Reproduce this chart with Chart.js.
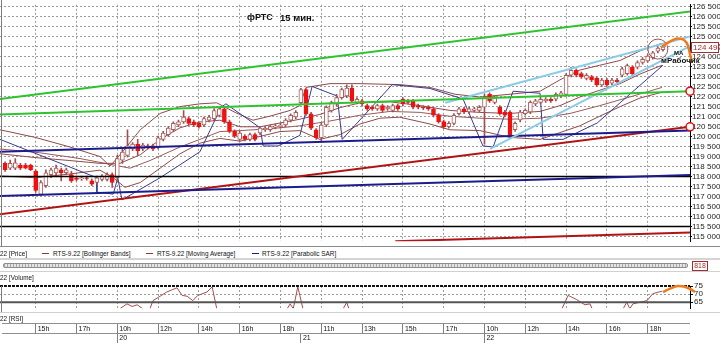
<!DOCTYPE html>
<html>
<head>
<meta charset="utf-8">
<script src="https://cdn.jsdelivr.net/npm/chart.js@4.4.1/dist/chart.umd.min.js"></script>
<style>
  html, body { margin: 0; padding: 0; background: #fff; }
  body { width: 720px; height: 344px; position: relative; overflow: hidden;
         font-family: 'Liberation Sans', Arial, sans-serif; color: #111; }
  .abs { position: absolute; }
  canvas { display: block; }
  .txt { position: absolute; font-size: 8px; line-height: 9px; white-space: nowrap;
         transform: scaleX(0.8); transform-origin: 0 0; }
  .swatch { position: absolute; height: 1px; width: 7px; }
</style>
</head>
<body>
  <canvas id="priceChart" class="abs" width="720" height="246" style="left:0;top:0"></canvas>
  <div class="abs" style="left:0;top:246px;width:720px;height:1px;background:#8a8a8a"></div>
  <div class="abs" style="left:1px;top:0;width:1px;height:246px;background:#7a7a7a"></div>

  <div class="abs" style="left:247px;top:12px;font:bold 9px 'Liberation Sans',Arial,sans-serif">фРТС</div>
  <div class="abs" style="left:280px;top:12px;font:bold 9.5px 'Liberation Sans',Arial,sans-serif">15 мин.</div>
  <div class="abs" style="left:674px;top:50px;font:bold 6px 'Liberation Sans',Arial,sans-serif">МА</div>
  <div class="abs" style="left:661px;top:56px;font:bold 8px 'Liberation Sans',Arial,sans-serif">мРабочик</div>

  <!-- legend row -->
  <div class="txt" style="left:0;top:249px">22 [Price]</div>
  <div class="swatch" style="left:42px;top:253px;background:#8a3a3a"></div>
  <div class="txt" style="left:53px;top:249px">RTS-9.22 [Bollinger Bands]</div>
  <div class="swatch" style="left:146px;top:253px;background:#8a3a3a"></div>
  <div class="txt" style="left:157px;top:249px">RTS-9.22 [Moving Average]</div>
  <div class="swatch" style="left:252px;top:253px;background:#1c1c8c"></div>
  <div class="txt" style="left:262px;top:249px">RTS-9.22 [Parabolic SAR]</div>

  <!-- scroll bar row -->
  <div class="abs" style="left:0;top:258px;width:720px;height:2px;background:#d4d4d4"></div>
  <div class="abs" style="left:3px;top:263px;width:683px;height:3px;border:1px solid #8c8c8c;border-radius:2px;
       background:repeating-linear-gradient(90deg,#a8a8a8 0 1px,#e4e4e4 1px 3px)"></div>
  <div class="abs" style="left:692px;top:261px;width:14px;height:8px;border:1px solid #a03030;background:#fff;
       font-size:7px;line-height:8px;color:#a03030;text-align:center">818</div>
  <div class="abs" style="left:0;top:271px;width:720px;height:1px;background:#d0d0d0"></div>

  <div class="txt" style="left:0;top:273px">22 [Volume]</div>
  <canvas id="rsiChart" class="abs" width="720" height="34" style="left:0;top:280px"></canvas>
  <div class="abs" style="left:1px;top:286px;width:1px;height:26px;background:#7a7a7a"></div>
  <div class="abs" style="left:0;top:312px;width:720px;height:1px;background:#d0d0d0"></div>
  <div class="txt" style="left:0;top:314px">22 [RSI]</div>

  <!-- time axis -->
  <div class="abs" style="left:2px;top:323px;width:688px;height:20px;border-top:1px solid #909090;border-bottom:1px solid #909090"></div>
  <div class="abs" style="left:2px;top:333px;width:688px;height:1px;background:#909090"></div>
  <canvas id="hourAxis" class="abs" width="720" height="10" style="left:0;top:324px"></canvas>
  <canvas id="dayAxis" class="abs" width="720" height="9" style="left:0;top:334px"></canvas>

<script>
// ---- axis ranges (bar index on x, one unit = one 15-minute bar) ----
const X_MIN = -1;
const X_MAX = 134.3;
const P_MIN = 114764;
const P_MAX = 126596;

const hourTicks = [6, 14, 22, 30, 38, 46, 54, 62, 70, 78, 86, 94, 102, 110, 118, 126];
const hourLabels = ['15h', '17h', '10h', '12h', '14h', '16h', '18h', '11h', '13h', '15h', '17h', '10h', '12h', '14h', '16h', '18h'];
const dayTicks = [22, 58, 94];
const dayLabels = ['20', '21', '22'];
const priceTicks = [115000, 115500, 116000, 116500, 117000, 117500, 118000, 118500, 119000, 119500, 120000, 120500,
  121000, 121500, 122000, 122500, 123000, 123500, 124000, 124500, 125000, 125500, 126000, 126500];
const rsiTicks = [75, 70, 65];
const lastPrice = 124490;

// ---- 15 min candles ----
const opens = [118660,118420,118420,118580,118580,118580,118260,117100,117540,118100,118180,118340,118200,118100,117940,117880,117940,117780,117700,117860,117860,118100,
  117940,118820,119060,119380,119620,119380,119540,119540,119460,119860,120100,120340,120580,120740,120900,120740,120660,120580,120820,120900,121060,121390,120740,120260,119860,120020,119860,120100,120180,120340,120340,120460,120500,120580,120820,120980,
  121700,122350,121140,120340,119940,120580,121300,121620,121950,122030,122430,121700,121790,121550,121470,121390,121550,121390,121310,121550,121870,121790,121790,121550,121470,121470,121390,121070,120750,120500,120660,121150,121390,121230,121310,121310,
  121470,122110,121710,121470,121230,121230,120350,120830,121150,121230,121630,121710,121790,121870,121870,122030,122110,123070,123310,123150,122910,122990,122910,122590,122830,122670,122830,123070,123150,123470,123470,123710,123790,123950,124270,124350];
const highs = [118740,118820,118900,118660,118660,118620,118340,117800,118340,118420,118580,118420,118420,118260,118020,118020,118020,117880,118020,118100,118180,118180,
  119060,119380,120340,119700,119860,119660,119620,119620,120020,120260,120500,120740,120820,121300,120980,120820,120740,120980,121060,121400,121460,121460,120820,120340,120260,120100,120180,120180,120500,120500,120580,120620,120660,120900,121140,121300,
  122420,122400,121220,120400,120660,121540,121780,122110,122430,122590,122590,121950,121870,121630,121550,121630,121630,121550,121630,121630,121950,121870,121870,121630,121550,121550,121470,121150,120830,120750,121150,121470,121470,121470,121470,121550,
  122110,122190,122030,121550,121310,121300,120740,121310,121390,121790,121870,121950,121950,121950,122190,122270,123150,123470,123390,123230,123150,123070,122990,122910,122910,122910,122910,123470,123630,123550,123790,123950,124110,124270,124510,124590];
const lows = [118260,118340,118340,118340,118380,118300,117200,117050,117460,117940,118020,117780,118100,117700,117780,117800,117820,117540,117620,117780,117780,117460,
  117860,118660,118980,119300,119060,119300,119380,119300,119380,119780,120020,120260,120500,120660,120580,120500,120420,120500,120740,120820,120980,120660,120180,119940,119780,119780,119780,119780,120100,120260,120260,120380,120420,120500,120740,120900,
  121620,121060,120340,119860,119780,120500,121220,121540,121870,121950,121700,121630,121550,121310,121310,121310,121230,121310,121230,121310,121550,121630,121390,121390,121350,121310,120990,120670,120400,120420,120580,121070,121150,121150,121230,121230,
  119620,121710,121630,121070,120990,119940,120260,120740,121070,121150,121550,121630,121710,121710,121790,121950,122030,122990,122990,122910,122830,122750,122510,122510,122510,122590,122670,122990,123070,123070,123390,123630,123710,123870,124190,124270];
const closes = [118340,118660,118690,118420,118420,118340,117300,117700,118180,118340,118420,118180,118340,117780,117860,117940,117900,117620,117940,118020,118100,117700,
  118900,119220,119540,119620,119300,119580,119460,119380,119940,120180,120420,120660,120740,120980,120660,120580,120500,120900,120980,121300,121390,120740,120260,120020,120180,119860,120100,119860,120420,120420,120500,120540,120580,120820,121060,121220,
  122350,121140,120420,119940,120580,121460,121700,121950,122350,122430,121790,121870,121630,121390,121390,121550,121310,121470,121550,121390,121630,121710,121470,121470,121430,121390,121070,120750,120500,120660,121070,121390,121230,121390,121390,121470,
  121950,121790,121950,121150,121070,120100,120660,121230,121310,121710,121790,121870,121870,121790,122110,122190,123070,123310,123070,122990,123070,122830,122590,122830,122590,122830,122750,123390,123550,123150,123710,123870,124030,124190,124430,124490];

// ---- indicators as [bar, price] ----
const bbUpper = [[-1,120340],[5.9,119960],[12.7,119480],[18.6,119000],[20.6,118520],[23.5,119380],[26.5,120340],[30.4,121160],[34.3,121500],[38.2,121640],[41.5,121690],[45.1,121210],[48.6,120820],[51.9,121020],[55.9,121310],[57.8,121550],[59,122460],[63.7,122650],[69.6,122650],[77.4,122600],[83.3,122460],[88.2,122120],[93.1,121980],[99,122120],[104.9,122270],[108.8,122840],[112.7,123330],[116.6,123570],[120.6,123810],[124.5,124290],[128.8,124670]];
const bbMiddle = [[-1,119140],[5.9,118950],[12.7,118800],[18.6,118660],[22.5,118660],[26.5,119090],[30.4,119860],[34.3,120440],[38.2,120730],[42.1,120820],[46.1,120490],[50,120490],[53.9,120680],[57.8,120870],[61.7,121110],[65.7,121450],[69.6,121690],[75.5,121740],[81.4,121550],[87.2,121310],[93.1,121210],[99,121160],[104.9,121260],[108.8,121550],[112.7,121980],[116.6,122320],[120.6,122650],[124.5,123130],[128.8,123570]];
const bbLower = [[-1,118030],[5.9,117940],[12.7,118130],[18.6,118320],[21.2,117940],[23.5,117460],[26.5,117700],[30.4,118420],[34.3,119140],[38.2,119670],[42.1,119910],[46.1,119770],[50,120010],[53.9,120250],[57.8,120300],[61.7,119860],[65.7,120100],[69.6,120630],[73.5,120920],[77.4,120970],[83.3,120630],[87.2,120340],[93.1,120300],[99,119960],[104.9,119860],[108.8,120200],[112.7,120540],[116.6,121020],[120.6,121500],[124.5,121930],[128.8,122220]];
const movingAvg = [[-1,119380],[6.8,119190],[14.7,118900],[20.6,118610],[24.5,118420],[28.4,118800],[34.3,119480],[38.2,119860],[42.1,120250],[46.1,120300],[51.9,120390],[57.8,120540],[63.7,120780],[69.6,121070],[75.5,121260],[81.4,121210],[87.2,121020],[93.1,120920],[99,120870],[104.9,120920],[110.8,121160],[116.6,121550],[122.5,121980],[128.8,122460]];
const sar = [[-1,119860],[18,117940],[18,117220],[21.2,117120],[22.1,117940],[22.9,116830],[30.4,117940],[38.2,119240],[42.3,121450],[43.3,121640],[50,120440],[50.6,119530],[53.5,119530],[57.8,120060],[60.2,122510],[65.1,122030],[66.1,119860],[75.9,122600],[83.3,122410],[89.8,121880],[93.7,119530],[95.7,119480],[99.6,122270],[104.9,122170],[105.5,119860],[109.4,119860],[116.1,120680],[122.5,122120],[129,123570]];

// ---- hand drawn lines ----
const greenUpper = [[-1,121880],[134.3,126260]];
const greenLower = [[-1,121110],[134.3,122270]];
const blueChanUpper = [[86.3,121690],[134.3,125010]];
const blueChanLower = [[95.1,119380],[134.3,124530]];
const navyUpper = [[-1,119240],[134.3,120300]];
const navyLower = [[-1,117030],[134.3,118080]];
const redMain = [[-1,116110],[134.3,120490]];
const redBottom = [[76.5,114760],[134.3,115200]];
const level118 = [[-1,118000],[134.3,118000]];
const level1155 = [[-1,115500],[134.3,115500]];
const lineEnds = [[134.3,122270],[134.3,120490]];
const ellipseAt = [[128,124380]];
const orangePrice = [[128.8,124480],[129.8,124670],[131.9,124910],[133.7,124670],[134.7,123710],[136.6,122120],[138.2,121160],[139.2,120720]];

// ---- lower pane ----
const rsiLine = [[22.5,61],[23.9,64],[24.9,62.4],[25.9,63.4],[27,61],[27.5,null],
  [28.4,61],[29,66],[30.4,68.7],[31.7,71.3],[33.7,73.9],[34.7,69.2],[35.7,68.7],[36.8,66],[37.8,69.2],[39.6,71.3],[40.6,74.5],[41.5,61],[48,null],
  [55.3,61],[55.9,64],[56.5,61],[57.4,74.5],[58.4,61],[62,null],
  [66.3,61],[67,65],[67.4,61],[90,null],
  [109.2,61],[110.4,69.2],[112.1,66.6],[113.7,63.4],[114.7,64],[115.1,61],[118,null],
  [121.2,61],[121.9,65],[122.5,61],[123.1,64],[124.5,65],[125.9,66],[127,70.3],[128.8,71.8]];
const orangeRsi = [[129,71.3],[130.4,73.4],[131.9,75],[133.3,74.5],[135.3,71.3],[136.8,67.6],[138.2,64]];
const rsiTop = [[-1,75],[134.3,75]];
const rsiBase = [[-1,65],[134.3,65]];

const FONT = "'Liberation Sans', Arial, sans-serif";
const MAROON = '#a05050';
const UP_EDGE = '#a86060';
const DOWN = '#f01010';

const pts = arr => arr.map(([x, y]) => ({x, y}));
const fmt = v => String(Math.round(v)).replace(/\B(?=(\d{3})+(?!\d))/g, ' ');

function lineSet(arr, color, width, order, extra) {
  return Object.assign({
    type: 'line', data: pts(arr), borderColor: color, borderWidth: width,
    pointRadius: 0, tension: 0, fill: false, order: order
  }, extra || {});
}

// ---- price pane ----
const wickData = opens.map((o, i) => ({x: i, y: [lows[i], highs[i]]}));
const bodyData = opens.map((o, i) => ({x: i, y: [Math.min(o, closes[i]), Math.max(o, closes[i])]}));
const bodyFill = opens.map((o, i) => closes[i] < o ? DOWN : '#ffffff');
const bodyEdge = opens.map((o, i) => closes[i] < o ? DOWN : UP_EDGE);

const lastPriceTag = {
  id: 'lastPriceTag',
  afterDraw(chart) {
    const {ctx, scales: {y}} = chart;
    const py = Math.round(y.getPixelForValue(lastPrice));
    ctx.save();
    ctx.fillStyle = '#fff';
    ctx.fillRect(y.left + 1, py - 5, 28, 10);
    ctx.strokeStyle = '#a03030';
    ctx.lineWidth = 1;
    ctx.strokeRect(y.left + 1.5, py - 4.5, 27, 10);
    ctx.fillStyle = '#a03030';
    ctx.font = '8px ' + FONT;
    ctx.textBaseline = 'middle';
    ctx.fillText(fmt(lastPrice), y.left + 3, py + 0.5);
    ctx.restore();
  }
};

new Chart(document.getElementById('priceChart'), {
  type: 'bar',
  data: {
    datasets: [
      {data: wickData, backgroundColor: MAROON, barThickness: 1, grouped: false, order: 5},
      {data: bodyData, backgroundColor: bodyFill, borderColor: bodyEdge, borderWidth: 1, borderSkipped: false,
       barThickness: 4, grouped: false, order: 4},
      lineSet(bbUpper, '#8e4a4a', 1, 8),
      lineSet(bbMiddle, '#8e4a4a', 1, 8),
      lineSet(bbLower, '#8e4a4a', 1, 8),
      lineSet(movingAvg, '#9a5a5a', 1, 8),
      lineSet(sar, '#3a3a90', 1, 7),
      lineSet(level118, '#000', 1.5, 3),
      lineSet(level1155, '#000', 1.5, 3),
      lineSet(greenUpper, '#2ec42e', 2, 2),
      lineSet(greenLower, '#2ec42e', 2, 2),
      lineSet(blueChanUpper, '#8ccbe6', 2, 2),
      lineSet(blueChanLower, '#8ccbe6', 2, 2),
      lineSet(navyUpper, '#1c1c8c', 2, 2),
      lineSet(navyLower, '#1c1c8c', 2, 2),
      lineSet(redMain, '#b01414', 2, 2),
      lineSet(redBottom, '#b01414', 2, 2),
      {type: 'scatter', data: pts(ellipseAt), pointRadius: 10, pointBorderColor: '#a05050',
       pointBackgroundColor: 'rgba(0,0,0,0)', pointBorderWidth: 1, order: 1},
      lineSet(orangePrice, '#f07a1e', 2.5, 0, {clip: false, cubicInterpolationMode: 'monotone'}),
      {type: 'scatter', data: pts(lineEnds), pointRadius: 4, pointBorderColor: '#e01010',
       pointBackgroundColor: '#fff', pointBorderWidth: 1.5, clip: false, order: 0}
    ]
  },
  options: {
    responsive: false,
    animation: false,
    layout: {autoPadding: false, padding: 0},
    plugins: {legend: {display: false}, tooltip: {enabled: false}},
    scales: {
      x: {
        type: 'linear', min: X_MIN, max: X_MAX, offset: false,
        afterBuildTicks: s => { s.ticks = hourTicks.map(v => ({value: v})); },
        ticks: {display: false},
        grid: {color: '#9c9c9c', drawTicks: false, offset: false},
        border: {display: false, dash: [2, 2]}
      },
      y: {
        position: 'right', min: P_MIN, max: P_MAX,
        afterBuildTicks: s => { s.ticks = priceTicks.map(v => ({value: v})); },
        afterFit: s => { s.width = 30; },
        ticks: {font: {size: 8, family: FONT}, color: '#222', padding: 0, autoSkip: false, callback: v => fmt(v)},
        grid: {color: '#9c9c9c', tickColor: '#000', tickLength: 2, tickBorderDash: []},
        border: {display: true, color: '#000', dash: [2, 2]}
      }
    }
  },
  plugins: [lastPriceTag]
});

// ---- lower pane ----
new Chart(document.getElementById('rsiChart'), {
  type: 'line',
  data: {
    datasets: [
      lineSet(rsiLine, '#a05050', 1, 3),
      lineSet(rsiBase, '#555', 2, 2),
      lineSet(rsiTop, '#111', 2, 2, {clip: false, borderDash: [3, 1]}),
      lineSet(orangeRsi, '#f07a1e', 2.5, 0, {clip: false, cubicInterpolationMode: 'monotone'})
    ]
  },
  options: {
    responsive: false,
    animation: false,
    layout: {autoPadding: false, padding: {top: 6, bottom: 2}},
    plugins: {legend: {display: false}, tooltip: {enabled: false}},
    scales: {
      x: {
        type: 'linear', min: X_MIN, max: X_MAX,
        afterBuildTicks: s => { s.ticks = hourTicks.map(v => ({value: v})); },
        ticks: {display: false},
        grid: {color: '#9c9c9c', drawTicks: false},
        border: {display: false, dash: [2, 2]}
      },
      y: {
        position: 'right', min: 61.32, max: 75,
        afterBuildTicks: s => { s.ticks = rsiTicks.map(v => ({value: v})); },
        afterFit: s => { s.width = 30; },
        ticks: {font: {size: 8, family: FONT}, color: '#222', padding: 1, autoSkip: false},
        grid: {color: '#9c9c9c', tickColor: '#000', tickLength: 3, tickBorderDash: []},
        border: {display: true, color: '#000', dash: [2, 2]}
      }
    }
  }
});

// ---- time axis rows ----
function timeRow(id, ticks, labels, height) {
  return new Chart(document.getElementById(id), {
    type: 'line',
    data: {datasets: []},
    options: {
      responsive: false,
      animation: false,
      layout: {autoPadding: false, padding: {right: 30}},
      plugins: {legend: {display: false}, tooltip: {enabled: false}},
      scales: {
        x: {
          type: 'linear', min: X_MIN, max: X_MAX,
          afterBuildTicks: s => { s.ticks = ticks.map(v => ({value: v})); },
          ticks: {display: true, align: 'start', labelOffset: 2, padding: -height, autoSkip: false,
                  maxRotation: 0, color: '#111', font: {size: 7, family: FONT, lineHeight: height / 7},
                  callback: (v, i) => labels[i]},
          grid: {color: '#808080', drawTicks: false},
          border: {display: false}
        },
        y: {display: false}
      }
    }
  });
}
timeRow('hourAxis', hourTicks, hourLabels, 10);
timeRow('dayAxis', dayTicks, dayLabels, 9);
</script>
</body>
</html>
